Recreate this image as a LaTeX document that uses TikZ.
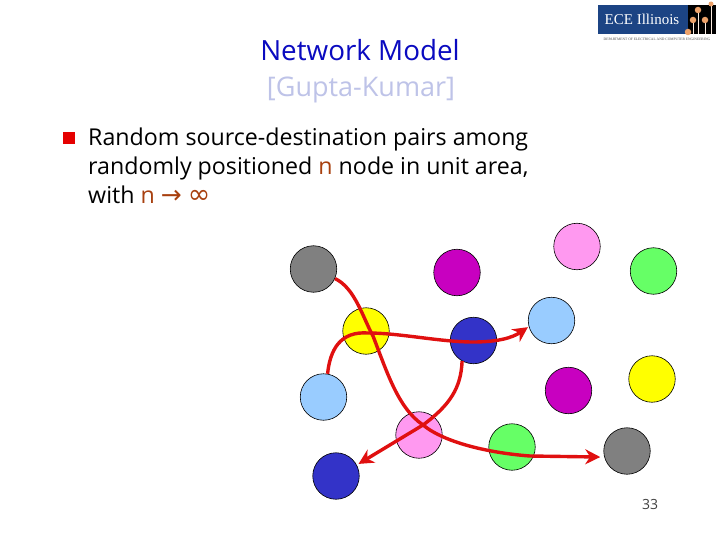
\documentclass[tikz,border=0pt]{standalone}
\usepackage{fontspec}
\setmainfont{Open Sans}
\newfontfamily\symf{DejaVu Sans}
\newfontfamily\logof{Liberation Serif}
\usetikzlibrary{arrows.meta}
\definecolor{ngray}{HTML}{808080}
\definecolor{nmag}{HTML}{C800C0}
\definecolor{npink}{HTML}{FF99F0}
\definecolor{ngreen}{HTML}{66FF66}
\definecolor{nsky}{HTML}{99CCFF}
\definecolor{nyel}{HTML}{FFFF00}
\definecolor{nblue}{HTML}{3333C8}
\definecolor{linkred}{HTML}{E01010}
\definecolor{brownn}{HTML}{A8400F}
\definecolor{logoblue}{HTML}{1C4484}
\definecolor{logoorange}{HTML}{EDA26A}
\definecolor{titleblue}{HTML}{0A0AC0}
\definecolor{subblue}{HTML}{BEC3E8}
\tikzset{
  netnode/.style={circle,draw=black,line width=0.6pt,minimum size=46.5pt,inner sep=0pt},
  link/.style={draw=linkred,line width=3.4pt,-{Stealth[length=15pt,width=15pt]}},
  bodytext/.style={anchor=base west,inner sep=0pt,font=\fontsize{23.2}{23.2}\selectfont},
  titletext/.style={anchor=base,inner sep=0pt},
  logodot/.style={circle,fill=logoorange,inner sep=0pt,minimum size=6.5pt}
}
\begin{document}
\begin{tikzpicture}[x=1pt,y=-1pt]
\path[use as bounding box,fill=white] (0,0) rectangle (720,540);
% logo
\fill[logoblue] (598,5) rectangle (688,34);
\fill[black] (688,5) rectangle (716,34);
\node[inner sep=0pt,text=white,font=\logof\fontsize{15}{15}\selectfont] (logotxt) at (642,19) {ECE Illinois};
\node[inner sep=0pt,text=black!70,font=\logof\fontsize{3.6}{4}\selectfont] (logosub) at (657,39.5) {DEPARTMENT OF ELECTRICAL AND COMPUTER ENGINEERING};
\draw[white!80!logoorange,line width=0.4pt] (693,20)--(693,34) (705,20)--(705,34) (698,10)--(698,34) (711,4)--(711,34);
\node[logodot] (d1) at (688,32) {};
\node[logodot] (d2) at (693,20) {};
\node[logodot] (d3) at (705,20) {};
\node[logodot] (d4) at (698,10) {};
\node[logodot,minimum size=5pt] (d5) at (711,4) {};
% title
\node[titletext,text=titleblue,font=\fontsize{27.8}{28}\selectfont] (title) at (360,61) {Network Model};
\node[titletext,text=subblue,font=\fontsize{27}{28}\selectfont] (subtitle) at (361,97) {[Gupta-Kumar]};
% bullet
\fill[red!90!black] (63,132) rectangle (75,144);
\node[bodytext] (l1) at (88,146) {Random source-destination pairs among};
\node[bodytext] (l2) at (88,175) {randomly positioned \textcolor{brownn}{n} node in unit area,};
\node[bodytext] (l3) at (88,204) {with \textcolor{brownn}{n {\symf\fontsize{25}{25}\selectfont→} {\symf\fontsize{27}{27}\selectfont∞}}};
% nodes
\node[netnode,fill=ngray] (g1) at (313.5,269) {};
\node[netnode,fill=nmag] (m1) at (457,272.5) {};
\node[netnode,fill=npink] (p1) at (577,246.5) {};
\node[netnode,fill=ngreen] (gr1) at (653.5,271) {};
\node[netnode,fill=nsky] (s1) at (551.5,320.5) {};
\node[netnode,fill=nyel] (y1) at (366,331) {};
\node[netnode,fill=nblue] (b1) at (473.5,340.5) {};
\node[netnode,fill=nsky] (s2) at (323.5,397) {};
\node[netnode,fill=nmag] (m2) at (568.5,390.5) {};
\node[netnode,fill=nyel] (y2) at (652,379) {};
\node[netnode,fill=npink] (p2) at (419,435) {};
\node[netnode,fill=ngreen] (gr2) at (512,447) {};
\node[netnode,fill=ngray] (g2) at (627,451) {};
\node[netnode,fill=nblue] (b2) at (336,476) {};
% links
\draw[link,shorten >=4pt] (g1.-24) .. controls (355,288) and (363,318) .. (373,336)
  .. controls (387,372) and (398,408) .. (423,425)
  .. controls (445,443) and (490,453) .. (530,456) -- (g2.195);
\draw[link,shorten >=1pt] (s2.80) .. controls (330,350) and (340,331) .. (368,333)
  .. controls (400,333) and (440,342) .. (473,342)
  .. controls (497,342) and (512,338) .. (s1.195);
\draw[link,shorten >=2pt] (b1.-119) .. controls (461,388) and (450,405) .. (423,425) -- (b2.28);
% page number
\node[inner sep=0pt,text=black!75,font=\fontsize{14}{14}\selectfont] (pg) at (650,504) {33};
\end{tikzpicture}
\end{document}
